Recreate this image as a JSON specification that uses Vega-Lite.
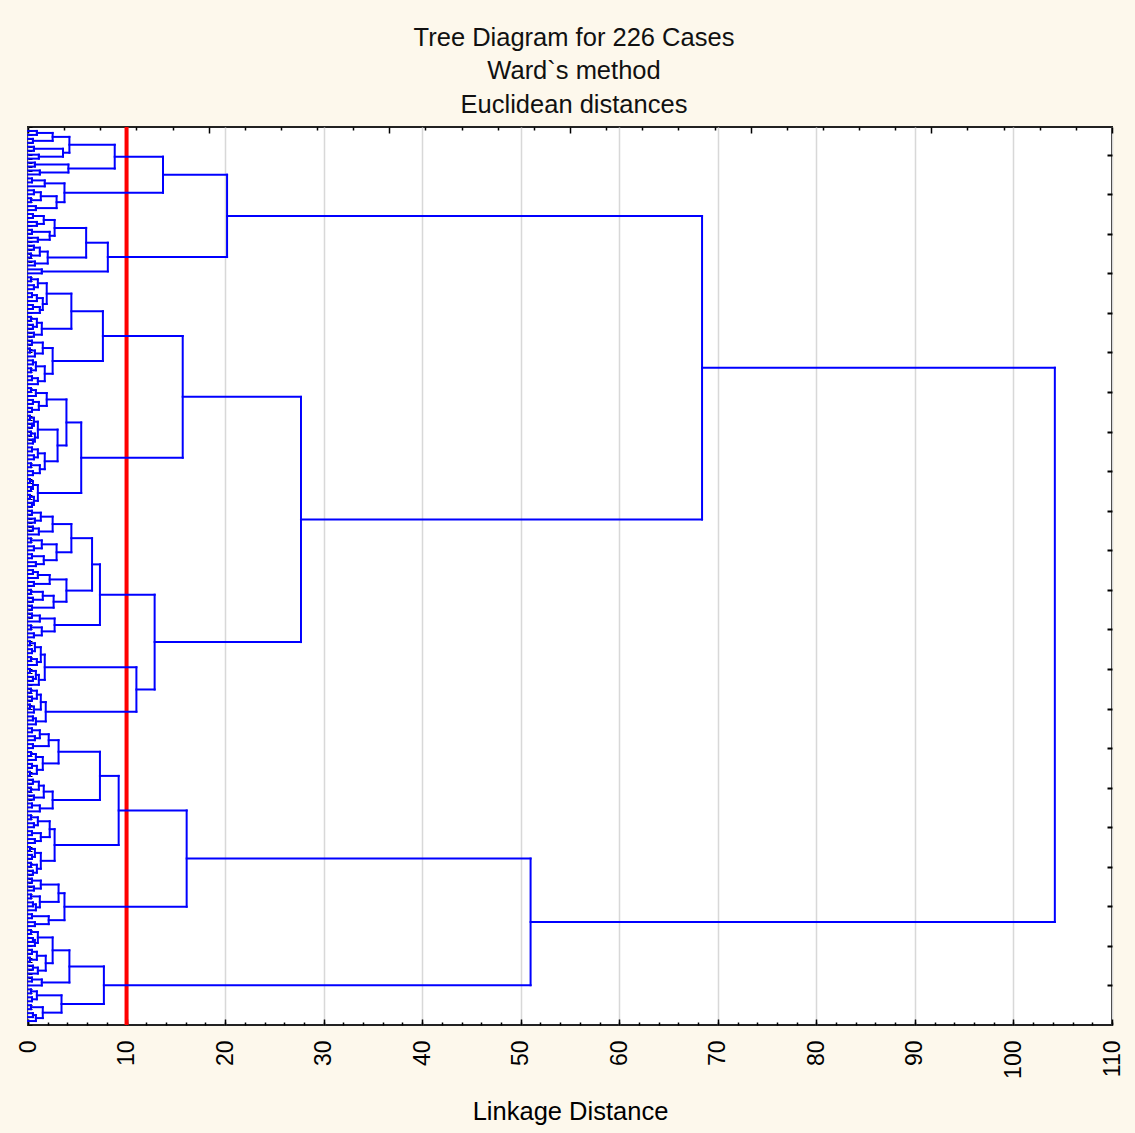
{
  "$schema": "https://vega.github.io/schema/vega-lite/v6.json",
  "width": 1084,
  "height": 898,
  "autosize": {"type": "none"},
  "padding": {"left": 28, "top": 127, "right": 23, "bottom": 108},
  "background": "#FDF8EC",
  "title": {
    "text": ["Tree Diagram for 226 Cases", "Ward`s method", "Euclidean distances"],
    "font": "Liberation Sans",
    "fontSize": 25.5,
    "fontWeight": "normal",
    "color": "#111111",
    "lineHeight": 33.5,
    "anchor": "middle",
    "offset": 6,
    "dx": 4
  },
  "config": {
    "view": {"stroke": "#222222", "strokeWidth": 2, "fill": "#FFFFFF"},
    "axis": {
      "domain": false,
      "labelFont": "Liberation Sans",
      "titleFont": "Liberation Sans",
      "tickColor": "#000000",
      "labelColor": "#000000",
      "titleColor": "#000000",
      "titleFontWeight": "normal",
      "labelOverlap": false,
      "labelBound": false
    }
  },
  "datasets": {
    "merges": [
      {"d":0.9,"p1":1,"p2":2,"d1":0,"d2":0},
      {"d":0.5,"p1":3,"p2":4,"d1":0,"d2":0},
      {"d":2.5,"p1":1.5,"p2":3.5,"d1":0.9,"d2":0.5},
      {"d":0.6,"p1":5,"p2":6,"d1":0,"d2":0},
      {"d":1.1,"p1":7,"p2":8,"d1":0,"d2":0},
      {"d":3.55,"p1":5.5,"p2":7.5,"d1":0.6,"d2":1.1},
      {"d":4.2,"p1":2.5,"p2":6.5,"d1":2.5,"d2":3.55},
      {"d":0.7,"p1":9,"p2":10,"d1":0,"d2":0},
      {"d":1.2,"p1":11,"p2":12,"d1":0,"d2":0},
      {"d":4.1,"p1":9.5,"p2":11.5,"d1":0.7,"d2":1.2},
      {"d":8.8,"p1":4.5,"p2":10.5,"d1":4.2,"d2":4.1},
      {"d":0.4,"p1":13,"p2":14,"d1":0,"d2":0},
      {"d":1.7,"p1":13.5,"p2":15,"d1":0.4,"d2":0},
      {"d":0.6,"p1":16,"p2":17,"d1":0,"d2":0},
      {"d":0.3,"p1":18,"p2":19,"d1":0,"d2":0},
      {"d":1.3,"p1":16.5,"p2":18.5,"d1":0.6,"d2":0.3},
      {"d":0.8,"p1":20,"p2":21,"d1":0,"d2":0},
      {"d":2.9,"p1":17.5,"p2":20.5,"d1":1.3,"d2":0.8},
      {"d":3.7,"p1":14.25,"p2":19,"d1":1.7,"d2":2.9},
      {"d":13.7,"p1":7.5,"p2":16.625,"d1":8.8,"d2":3.7},
      {"d":0.5,"p1":22,"p2":23,"d1":0,"d2":0},
      {"d":0.9,"p1":24,"p2":25,"d1":0,"d2":0},
      {"d":1.6,"p1":22.5,"p2":24.5,"d1":0.5,"d2":0.9},
      {"d":0.4,"p1":26,"p2":27,"d1":0,"d2":0},
      {"d":1.0,"p1":28,"p2":29,"d1":0,"d2":0},
      {"d":2.2,"p1":26.5,"p2":28.5,"d1":0.4,"d2":1.0},
      {"d":2.7,"p1":23.5,"p2":27.5,"d1":1.6,"d2":2.2},
      {"d":0.6,"p1":30,"p2":31,"d1":0,"d2":0},
      {"d":0.3,"p1":32,"p2":33,"d1":0,"d2":0},
      {"d":1.2,"p1":30.5,"p2":32.5,"d1":0.6,"d2":0.3},
      {"d":0.7,"p1":34,"p2":35,"d1":0,"d2":0},
      {"d":2.0,"p1":31.5,"p2":34.5,"d1":1.2,"d2":0.7},
      {"d":5.9,"p1":25.5,"p2":33,"d1":2.7,"d2":2.0},
      {"d":1.4,"p1":36,"p2":37,"d1":0,"d2":0},
      {"d":8.1,"p1":29.25,"p2":36.5,"d1":5.9,"d2":1.4},
      {"d":20.2,"p1":12.0625,"p2":32.875,"d1":13.7,"d2":8.1},
      {"d":0.3,"p1":38,"p2":39,"d1":0,"d2":0},
      {"d":0.6,"p1":40,"p2":41,"d1":0,"d2":0},
      {"d":1.0,"p1":38.5,"p2":40.5,"d1":0.3,"d2":0.6},
      {"d":0.4,"p1":42,"p2":43,"d1":0,"d2":0},
      {"d":0.9,"p1":42.5,"p2":44,"d1":0.4,"d2":0},
      {"d":0.5,"p1":45,"p2":46,"d1":0,"d2":0},
      {"d":1.2,"p1":45.5,"p2":47,"d1":0.5,"d2":0},
      {"d":1.5,"p1":43.25,"p2":46.25,"d1":0.9,"d2":1.2},
      {"d":1.9,"p1":39.5,"p2":44.75,"d1":1.0,"d2":1.5},
      {"d":0.3,"p1":48,"p2":49,"d1":0,"d2":0},
      {"d":0.5,"p1":50,"p2":51,"d1":0,"d2":0},
      {"d":0.9,"p1":48.5,"p2":50.5,"d1":0.3,"d2":0.5},
      {"d":0.6,"p1":52,"p2":53,"d1":0,"d2":0},
      {"d":1.4,"p1":49.5,"p2":52.5,"d1":0.9,"d2":0.6},
      {"d":4.4,"p1":42.125,"p2":51,"d1":1.9,"d2":1.4},
      {"d":0.4,"p1":54,"p2":55,"d1":0,"d2":0},
      {"d":0.2,"p1":56,"p2":57,"d1":0,"d2":0},
      {"d":0.7,"p1":56.5,"p2":58,"d1":0.2,"d2":0},
      {"d":1.5,"p1":54.5,"p2":57.25,"d1":0.4,"d2":0.7},
      {"d":0.5,"p1":59,"p2":60,"d1":0,"d2":0},
      {"d":0.3,"p1":61,"p2":62,"d1":0,"d2":0},
      {"d":0.8,"p1":59.5,"p2":61.5,"d1":0.5,"d2":0.3},
      {"d":0.4,"p1":63,"p2":64,"d1":0,"d2":0},
      {"d":1.0,"p1":63.5,"p2":65,"d1":0.4,"d2":0},
      {"d":1.7,"p1":60.5,"p2":64.25,"d1":0.8,"d2":1.0},
      {"d":2.5,"p1":55.875,"p2":62.375,"d1":1.5,"d2":1.7},
      {"d":7.6,"p1":46.5625,"p2":59.125,"d1":4.4,"d2":2.5},
      {"d":0.3,"p1":66,"p2":67,"d1":0,"d2":0},
      {"d":0.8,"p1":66.5,"p2":68,"d1":0.3,"d2":0},
      {"d":0.5,"p1":69,"p2":70,"d1":0,"d2":0},
      {"d":0.4,"p1":71,"p2":72,"d1":0,"d2":0},
      {"d":1.1,"p1":69.5,"p2":71.5,"d1":0.5,"d2":0.4},
      {"d":1.9,"p1":67.25,"p2":70.5,"d1":0.8,"d2":1.1},
      {"d":0.2,"p1":73,"p2":74,"d1":0,"d2":0},
      {"d":0.4,"p1":75,"p2":76,"d1":0,"d2":0},
      {"d":0.6,"p1":73.5,"p2":75.5,"d1":0.2,"d2":0.4},
      {"d":0.3,"p1":77,"p2":78,"d1":0,"d2":0},
      {"d":0.5,"p1":79,"p2":80,"d1":0,"d2":0},
      {"d":0.7,"p1":77.5,"p2":79.5,"d1":0.3,"d2":0.5},
      {"d":1.0,"p1":74.5,"p2":78.5,"d1":0.6,"d2":0.7},
      {"d":0.4,"p1":81,"p2":82,"d1":0,"d2":0},
      {"d":0.6,"p1":83,"p2":84,"d1":0,"d2":0},
      {"d":1.0,"p1":81.5,"p2":83.5,"d1":0.4,"d2":0.6},
      {"d":0.3,"p1":85,"p2":86,"d1":0,"d2":0},
      {"d":0.5,"p1":87,"p2":88,"d1":0,"d2":0},
      {"d":1.2,"p1":85.5,"p2":87.5,"d1":0.3,"d2":0.5},
      {"d":1.7,"p1":82.5,"p2":86.5,"d1":1.0,"d2":1.2},
      {"d":3.0,"p1":76.5,"p2":84.5,"d1":1.0,"d2":1.7},
      {"d":3.9,"p1":68.875,"p2":80.5,"d1":1.9,"d2":3.0},
      {"d":0.2,"p1":89,"p2":90,"d1":0,"d2":0},
      {"d":0.3,"p1":91,"p2":92,"d1":0,"d2":0},
      {"d":0.5,"p1":89.5,"p2":91.5,"d1":0.2,"d2":0.3},
      {"d":0.2,"p1":93,"p2":94,"d1":0,"d2":0},
      {"d":0.4,"p1":95,"p2":96,"d1":0,"d2":0},
      {"d":0.6,"p1":93.5,"p2":95.5,"d1":0.2,"d2":0.4},
      {"d":1.0,"p1":90.5,"p2":94.5,"d1":0.5,"d2":0.6},
      {"d":5.4,"p1":74.6875,"p2":92.5,"d1":3.9,"d2":1.0},
      {"d":15.7,"p1":52.84375,"p2":83.59375,"d1":7.6,"d2":5.4},
      {"d":0.4,"p1":97,"p2":98,"d1":0,"d2":0},
      {"d":0.7,"p1":99,"p2":100,"d1":0,"d2":0},
      {"d":1.3,"p1":97.5,"p2":99.5,"d1":0.4,"d2":0.7},
      {"d":0.5,"p1":101,"p2":102,"d1":0,"d2":0},
      {"d":1.1,"p1":101.5,"p2":103,"d1":0.5,"d2":0},
      {"d":2.5,"p1":98.5,"p2":102.25,"d1":1.3,"d2":1.1},
      {"d":0.3,"p1":104,"p2":105,"d1":0,"d2":0},
      {"d":0.6,"p1":106,"p2":107,"d1":0,"d2":0},
      {"d":1.4,"p1":104.5,"p2":106.5,"d1":0.3,"d2":0.6},
      {"d":0.4,"p1":108,"p2":109,"d1":0,"d2":0},
      {"d":0.8,"p1":110,"p2":111,"d1":0,"d2":0},
      {"d":1.6,"p1":108.5,"p2":110.5,"d1":0.4,"d2":0.8},
      {"d":2.9,"p1":105.5,"p2":109.5,"d1":1.4,"d2":1.6},
      {"d":4.4,"p1":100.375,"p2":107.5,"d1":2.5,"d2":2.9},
      {"d":0.5,"p1":112,"p2":113,"d1":0,"d2":0},
      {"d":1.0,"p1":112.5,"p2":114,"d1":0.5,"d2":0},
      {"d":0.6,"p1":115,"p2":116,"d1":0,"d2":0},
      {"d":2.2,"p1":113.25,"p2":115.5,"d1":1.0,"d2":0.6},
      {"d":0.3,"p1":117,"p2":118,"d1":0,"d2":0},
      {"d":0.5,"p1":119,"p2":120,"d1":0,"d2":0},
      {"d":1.5,"p1":117.5,"p2":119.5,"d1":0.3,"d2":0.5},
      {"d":0.4,"p1":121,"p2":122,"d1":0,"d2":0},
      {"d":2.6,"p1":118.5,"p2":121.5,"d1":1.5,"d2":0.4},
      {"d":3.9,"p1":114.375,"p2":120,"d1":2.2,"d2":2.6},
      {"d":6.5,"p1":103.9375,"p2":117.1875,"d1":4.4,"d2":3.9},
      {"d":0.4,"p1":123,"p2":124,"d1":0,"d2":0},
      {"d":1.2,"p1":123.5,"p2":125,"d1":0.4,"d2":0},
      {"d":0.3,"p1":126,"p2":127,"d1":0,"d2":0},
      {"d":0.6,"p1":128,"p2":129,"d1":0,"d2":0},
      {"d":1.4,"p1":126.5,"p2":128.5,"d1":0.3,"d2":0.6},
      {"d":2.7,"p1":124.25,"p2":127.5,"d1":1.2,"d2":1.4},
      {"d":7.3,"p1":110.5625,"p2":125.875,"d1":6.5,"d2":2.7},
      {"d":0.2,"p1":130,"p2":131,"d1":0,"d2":0},
      {"d":0.4,"p1":132,"p2":133,"d1":0,"d2":0},
      {"d":0.7,"p1":130.5,"p2":132.5,"d1":0.2,"d2":0.4},
      {"d":0.3,"p1":134,"p2":135,"d1":0,"d2":0},
      {"d":0.9,"p1":134.5,"p2":136,"d1":0.3,"d2":0},
      {"d":1.3,"p1":131.5,"p2":135.25,"d1":0.7,"d2":0.9},
      {"d":0.2,"p1":137,"p2":138,"d1":0,"d2":0},
      {"d":0.5,"p1":139,"p2":140,"d1":0,"d2":0},
      {"d":0.8,"p1":137.5,"p2":139.5,"d1":0.2,"d2":0.5},
      {"d":1.1,"p1":138.5,"p2":141,"d1":0.8,"d2":0},
      {"d":1.7,"p1":133.375,"p2":139.75,"d1":1.3,"d2":1.1},
      {"d":0.3,"p1":142,"p2":143,"d1":0,"d2":0},
      {"d":0.4,"p1":144,"p2":145,"d1":0,"d2":0},
      {"d":0.9,"p1":142.5,"p2":144.5,"d1":0.3,"d2":0.4},
      {"d":0.2,"p1":146,"p2":147,"d1":0,"d2":0},
      {"d":0.6,"p1":146.5,"p2":148,"d1":0.2,"d2":0},
      {"d":1.3,"p1":143.5,"p2":147.25,"d1":0.9,"d2":0.6},
      {"d":0.5,"p1":149,"p2":150,"d1":0,"d2":0},
      {"d":0.8,"p1":149.5,"p2":151,"d1":0.5,"d2":0},
      {"d":1.8,"p1":145.375,"p2":150.25,"d1":1.3,"d2":0.8},
      {"d":11.0,"p1":136.5625,"p2":147.8125,"d1":1.7,"d2":1.8},
      {"d":12.85,"p1":118.21875,"p2":142.1875,"d1":7.3,"d2":11.0},
      {"d":27.7,"p1":68.21875,"p2":130.203125,"d1":15.7,"d2":12.85},
      {"d":68.4,"p1":22.46875,"p2":99.2109375,"d1":20.2,"d2":27.7},
      {"d":0.4,"p1":152,"p2":153,"d1":0,"d2":0},
      {"d":0.7,"p1":154,"p2":155,"d1":0,"d2":0},
      {"d":1.2,"p1":152.5,"p2":154.5,"d1":0.4,"d2":0.7},
      {"d":0.5,"p1":156,"p2":157,"d1":0,"d2":0},
      {"d":2.1,"p1":153.5,"p2":156.5,"d1":1.2,"d2":0.5},
      {"d":0.3,"p1":158,"p2":159,"d1":0,"d2":0},
      {"d":0.8,"p1":158.5,"p2":160,"d1":0.3,"d2":0},
      {"d":0.4,"p1":161,"p2":162,"d1":0,"d2":0},
      {"d":0.2,"p1":163,"p2":164,"d1":0,"d2":0},
      {"d":0.9,"p1":161.5,"p2":163.5,"d1":0.4,"d2":0.2},
      {"d":1.5,"p1":159.25,"p2":162.5,"d1":0.8,"d2":0.9},
      {"d":3.1,"p1":155,"p2":160.875,"d1":2.1,"d2":1.5},
      {"d":0.5,"p1":165,"p2":166,"d1":0,"d2":0},
      {"d":0.3,"p1":167,"p2":168,"d1":0,"d2":0},
      {"d":1.1,"p1":165.5,"p2":167.5,"d1":0.5,"d2":0.3},
      {"d":0.6,"p1":169,"p2":170,"d1":0,"d2":0},
      {"d":1.6,"p1":166.5,"p2":169.5,"d1":1.1,"d2":0.6},
      {"d":0.4,"p1":171,"p2":172,"d1":0,"d2":0},
      {"d":1.2,"p1":171.5,"p2":173,"d1":0.4,"d2":0},
      {"d":2.5,"p1":168,"p2":172.25,"d1":1.6,"d2":1.2},
      {"d":7.3,"p1":157.9375,"p2":170.125,"d1":3.1,"d2":2.5},
      {"d":0.3,"p1":174,"p2":175,"d1":0,"d2":0},
      {"d":0.6,"p1":176,"p2":177,"d1":0,"d2":0},
      {"d":1.0,"p1":174.5,"p2":176.5,"d1":0.3,"d2":0.6},
      {"d":0.4,"p1":178,"p2":179,"d1":0,"d2":0},
      {"d":0.7,"p1":180,"p2":181,"d1":0,"d2":0},
      {"d":1.3,"p1":178.5,"p2":180.5,"d1":0.4,"d2":0.7},
      {"d":2.2,"p1":175.5,"p2":179.5,"d1":1.0,"d2":1.3},
      {"d":0.2,"p1":182,"p2":183,"d1":0,"d2":0},
      {"d":0.4,"p1":184,"p2":185,"d1":0,"d2":0},
      {"d":0.7,"p1":182.5,"p2":184.5,"d1":0.2,"d2":0.4},
      {"d":0.3,"p1":186,"p2":187,"d1":0,"d2":0},
      {"d":0.5,"p1":188,"p2":189,"d1":0,"d2":0},
      {"d":0.9,"p1":186.5,"p2":188.5,"d1":0.3,"d2":0.5},
      {"d":1.3,"p1":183.5,"p2":187.5,"d1":0.7,"d2":0.9},
      {"d":2.7,"p1":177.5,"p2":185.5,"d1":2.2,"d2":1.3},
      {"d":9.2,"p1":164.03125,"p2":181.5,"d1":7.3,"d2":2.7},
      {"d":0.4,"p1":190,"p2":191,"d1":0,"d2":0},
      {"d":0.6,"p1":192,"p2":193,"d1":0,"d2":0},
      {"d":1.3,"p1":190.5,"p2":192.5,"d1":0.4,"d2":0.6},
      {"d":0.3,"p1":194,"p2":195,"d1":0,"d2":0},
      {"d":0.5,"p1":196,"p2":197,"d1":0,"d2":0},
      {"d":0.8,"p1":196.5,"p2":198,"d1":0.5,"d2":0},
      {"d":1.2,"p1":194.5,"p2":197.25,"d1":0.3,"d2":0.8},
      {"d":3.1,"p1":191.5,"p2":195.875,"d1":1.3,"d2":1.2},
      {"d":0.4,"p1":199,"p2":200,"d1":0,"d2":0},
      {"d":0.7,"p1":201,"p2":202,"d1":0,"d2":0},
      {"d":2.1,"p1":199.5,"p2":201.5,"d1":0.4,"d2":0.7},
      {"d":3.7,"p1":193.6875,"p2":200.5,"d1":3.1,"d2":2.1},
      {"d":16.1,"p1":172.765625,"p2":197.09375,"d1":9.2,"d2":3.7},
      {"d":0.3,"p1":203,"p2":204,"d1":0,"d2":0},
      {"d":0.5,"p1":205,"p2":206,"d1":0,"d2":0},
      {"d":0.7,"p1":205.5,"p2":207,"d1":0.5,"d2":0},
      {"d":1.0,"p1":203.5,"p2":206.25,"d1":0.3,"d2":0.7},
      {"d":0.4,"p1":208,"p2":209,"d1":0,"d2":0},
      {"d":0.2,"p1":210,"p2":211,"d1":0,"d2":0},
      {"d":0.9,"p1":208.5,"p2":210.5,"d1":0.4,"d2":0.2},
      {"d":0.5,"p1":212,"p2":213,"d1":0,"d2":0},
      {"d":1.0,"p1":212.5,"p2":214,"d1":0.5,"d2":0},
      {"d":1.8,"p1":209.5,"p2":213.25,"d1":0.9,"d2":1.0},
      {"d":2.5,"p1":204.875,"p2":211.375,"d1":1.0,"d2":1.8},
      {"d":0.4,"p1":215,"p2":216,"d1":0,"d2":0},
      {"d":1.4,"p1":215.5,"p2":217,"d1":0.4,"d2":0},
      {"d":4.2,"p1":208.125,"p2":216.25,"d1":2.5,"d2":1.4},
      {"d":0.3,"p1":218,"p2":219,"d1":0,"d2":0},
      {"d":0.4,"p1":220,"p2":221,"d1":0,"d2":0},
      {"d":0.9,"p1":218.5,"p2":220.5,"d1":0.3,"d2":0.4},
      {"d":0.3,"p1":222,"p2":223,"d1":0,"d2":0},
      {"d":0.5,"p1":224,"p2":225,"d1":0,"d2":0},
      {"d":0.8,"p1":224.5,"p2":226,"d1":0.5,"d2":0},
      {"d":1.5,"p1":222.5,"p2":225.25,"d1":0.3,"d2":0.8},
      {"d":3.4,"p1":219.5,"p2":223.875,"d1":0.9,"d2":1.5},
      {"d":7.7,"p1":212.1875,"p2":221.6875,"d1":4.2,"d2":3.4},
      {"d":51.0,"p1":184.9296875,"p2":216.9375,"d1":16.1,"d2":7.7},
      {"d":104.2,"p1":60.83984375,"p2":200.93359375,"d1":68.4,"d2":51.0}
    ]
  },
  "layer": [
    {
      "layer": [
        {
          "data": {"values": [{"cut": 10}]},
          "mark": {"type": "rule", "color": "#FF0000", "strokeWidth": 4},
          "encoding": {
            "x": {
              "field": "cut",
              "type": "quantitative",
              "scale": {"domain": [0, 110], "nice": false, "zero": true},
              "axis": {
                "orient": "bottom",
                "title": "Linkage Distance",
                "titleFontSize": 25.5,
                "titleBaseline": "middle",
                "titleY": 86,
                "values": [0,10,20,30,40,50,60,70,80,90,100,110],
                "labelAngle": 270,
                "labelFontSize": 23,
                "labelPadding": 21,
                "labelOverlap": false,
                "labelFlush": false,
                "labelBound": false,
                "tickSize": -6,
                "tickWidth": 1.5,
                "grid": true,
                "gridColor": "#D8D8D8",
                "gridWidth": 1.5
              }
            }
          }
        },
        {
          "data": {"name": "merges"},
          "mark": {"type": "rule", "color": "#0000FF", "strokeWidth": 2, "strokeCap": "square"},
          "encoding": {
            "x": {"field": "d", "type": "quantitative"},
            "y": {
              "field": "p1",
              "type": "quantitative",
              "scale": {"domain": [0, 227], "reverse": true, "nice": false, "zero": false},
              "axis": {
                "orient": "left",
                "title": null,
                "labels": false,
                "tickCount": 227,
                "tickSize": -4,
                "tickWidth": 1,
                "grid": false
              }
            },
            "y2": {"field": "p2"}
          }
        },
        {
          "data": {"name": "merges"},
          "mark": {"type": "rule", "color": "#0000FF", "strokeWidth": 2, "strokeCap": "square"},
          "encoding": {
            "x": {"field": "d1", "type": "quantitative"},
            "x2": {"field": "d"},
            "y": {"field": "p1", "type": "quantitative"}
          }
        },
        {
          "data": {"name": "merges"},
          "mark": {"type": "rule", "color": "#0000FF", "strokeWidth": 2, "strokeCap": "square"},
          "encoding": {
            "x": {"field": "d2", "type": "quantitative"},
            "x2": {"field": "d"},
            "y": {"field": "p2", "type": "quantitative"}
          }
        }
      ]
    },
    {
      "data": {"values": [{}]},
      "mark": {"type": "point", "opacity": 0},
      "encoding": {
        "x": {
          "datum": 0,
          "type": "quantitative",
          "scale": {"domain": [0, 30], "nice": false},
          "axis": {
            "orient": "top",
            "title": null,
            "labels": false,
            "grid": false,
            "values": [0,1,2,3,4,5,6,7,8,9,10,11,12,13,14,15,16,17,18,19,20,21,22,23,24,25,26,27,28,29,30],
            "tickSize": {"condition": {"test": "datum.value % 5 === 0", "value": -6}, "value": -3},
            "tickWidth": 1.5
          }
        },
        "y": {
          "datum": 0,
          "type": "quantitative",
          "scale": {"domain": [0, 227], "reverse": true, "nice": false, "zero": false},
          "axis": {
            "orient": "right",
            "title": null,
            "labels": false,
            "grid": false,
            "values": [7,17,27,37,47,57,67,77,87,97,107,117,127,137,147,157,167,177,187,197,207,217],
            "tickSize": -5,
            "tickWidth": 2
          }
        }
      }
    },
    {
      "data": {"values": [{}]},
      "mark": {"type": "point", "opacity": 0},
      "encoding": {
        "x": {
          "datum": 0,
          "type": "quantitative",
          "scale": {"domain": [0, 110], "nice": false},
          "axis": {
            "orient": "bottom",
            "offset": 0,
            "title": null,
            "labels": false,
            "grid": false,
            "values": [0,2,4,6,8,10,12,14,16,18,20,22,24,26,28,30,32,34,36,38,40,42,44,46,48,50,52,54,56,58,60,62,64,66,68,70,72,74,76,78,80,82,84,86,88,90,92,94,96,98,100,102,104,106,108,110],
            "tickSize": -3,
            "tickWidth": 1.5
          }
        }
      }
    }
  ],
  "resolve": {
    "scale": {"x": "independent", "y": "independent"},
    "axis": {"x": "independent", "y": "independent"}
  }
}
